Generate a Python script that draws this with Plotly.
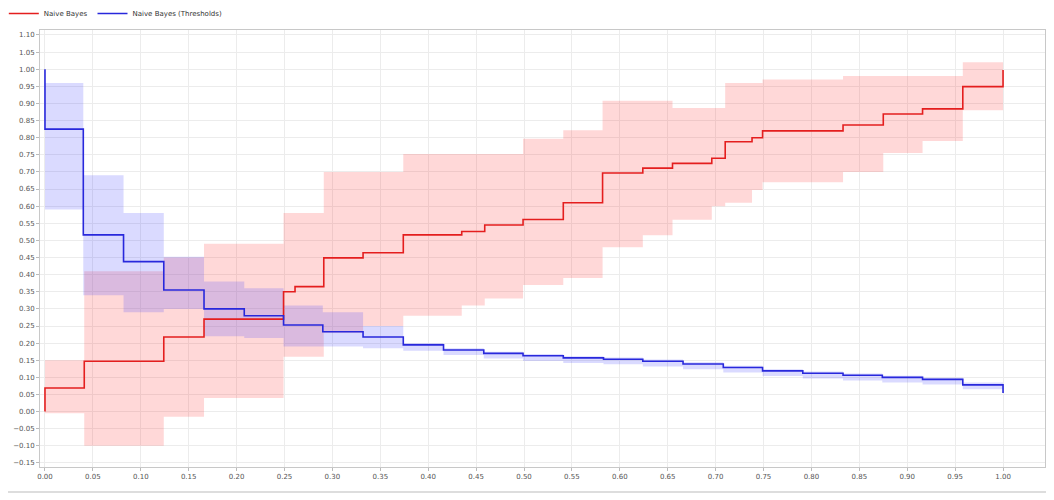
import plotly.graph_objects as go

# ---- Naive Bayes (red) : step breakpoints and per-step values ----
red_x = [0.000, 0.041, 0.124, 0.166, 0.249, 0.261, 0.291, 0.332, 0.374, 0.435,
         0.459, 0.499, 0.541, 0.582, 0.624, 0.655, 0.696, 0.710, 0.738, 0.749,
         0.833, 0.875, 0.916, 0.958, 1.000]
red_y = [0.069, 0.147, 0.218, 0.270, 0.350, 0.365, 0.449, 0.464, 0.516, 0.526,
         0.545, 0.561, 0.610, 0.697, 0.711, 0.725, 0.740, 0.788, 0.800, 0.820,
         0.837, 0.869, 0.884, 0.949]
red_end = 0.998
red_start = 0.0
red_upper = [0.150, 0.410, 0.450, 0.490, 0.580, 0.580, 0.700, 0.700, 0.752, 0.752,
             0.752, 0.797, 0.822, 0.908, 0.908, 0.887, 0.887, 0.960, 0.960, 0.970,
             0.980, 0.980, 0.980, 1.020]
red_lower = [-0.005, -0.100, -0.015, 0.040, 0.160, 0.160, 0.230, 0.250, 0.280, 0.310,
             0.330, 0.370, 0.390, 0.480, 0.515, 0.560, 0.600, 0.610, 0.647, 0.670,
             0.700, 0.755, 0.790, 0.880]

# ---- Naive Bayes (Thresholds) (blue) ----
blue_x = [0.000, 0.040, 0.082, 0.124, 0.166, 0.208, 0.249, 0.290, 0.332, 0.374,
          0.416, 0.458, 0.499, 0.541, 0.583, 0.624, 0.666, 0.708, 0.749, 0.791,
          0.833, 0.874, 0.916, 0.958, 1.000]
blue_y = [0.825, 0.516, 0.438, 0.355, 0.300, 0.280, 0.253, 0.233, 0.218, 0.195,
          0.180, 0.170, 0.163, 0.157, 0.153, 0.147, 0.139, 0.129, 0.119, 0.112,
          0.106, 0.100, 0.094, 0.078]
blue_start = 1.0
blue_end = 0.054
blue_upper = [0.960, 0.690, 0.580, 0.452, 0.380, 0.360, 0.310, 0.290, 0.250, 0.200,
              0.185, 0.175, 0.168, 0.162, 0.158, 0.152, 0.144, 0.134, 0.124, 0.117,
              0.111, 0.105, 0.099, 0.085]
blue_lower = [0.590, 0.340, 0.290, 0.300, 0.220, 0.215, 0.190, 0.190, 0.185, 0.178,
              0.165, 0.155, 0.148, 0.142, 0.138, 0.132, 0.124, 0.114, 0.104, 0.097,
              0.091, 0.085, 0.079, 0.065]

series_names = ["Naive Bayes", "Naive Bayes (Thresholds)"]
RED = "rgb(228,30,30)"
BLUE = "rgb(40,40,220)"
RED_FILL = "rgba(255,60,60,0.20)"
BLUE_FILL = "rgba(70,70,255,0.20)"

fig = go.Figure()


def add_band(xs, lo, hi, fill):
    fig.add_trace(go.Scatter(x=xs, y=lo + [lo[-1]], mode="lines", line=dict(width=0, shape="hv"),
                             showlegend=False, hoverinfo="skip"))
    fig.add_trace(go.Scatter(x=xs, y=hi + [hi[-1]], mode="lines", line=dict(width=0, shape="hv"),
                             fill="tonexty", fillcolor=fill, showlegend=False, hoverinfo="skip"))


add_band(red_x, red_lower, red_upper, RED_FILL)
add_band(blue_x, blue_lower, blue_upper, BLUE_FILL)

fig.add_trace(go.Scatter(x=[red_x[0]] + red_x, y=[red_start] + red_y + [red_end],
                         mode="lines", line=dict(color=RED, width=1.6, shape="hv"),
                         name=series_names[0]))
fig.add_trace(go.Scatter(x=[blue_x[0]] + blue_x, y=[blue_start] + blue_y + [blue_end],
                         mode="lines", line=dict(color=BLUE, width=1.6, shape="hv"),
                         name=series_names[1]))

axis_common = dict(
    showgrid=True, gridcolor="#ececec", gridwidth=1,
    zeroline=False, showline=True, linecolor="#c8c8c8", mirror=True,
    ticks="outside", ticklen=3, tickcolor="#bbbbbb",
    tickformat=".2f", dtick=0.05, tick0=0, automargin=False,
    tickfont=dict(family="DejaVu Sans", size=7, color="#555555"),
)

fig.update_layout(
    width=1046, height=492, autosize=False,
    margin=dict(l=32, r=9, t=22, b=33, autoexpand=False),
    paper_bgcolor="white", plot_bgcolor="white",
    xaxis=dict(range=[-0.0052, 1.0438], **axis_common),
    yaxis=dict(range=[-0.1618, 1.1145], **axis_common),
    legend=dict(orientation="h", x=-0.036, xanchor="left", y=1.071, yanchor="top",
                traceorder="normal",
                font=dict(family="DejaVu Sans", size=7, color="#333333"),
                itemwidth=30, tracegroupgap=0, bgcolor="rgba(0,0,0,0)"),
    shapes=[dict(type="line", xref="paper", yref="paper", x0=-0.04, x1=1.01,
                 y0=-0.057, y1=-0.057, line=dict(color="#dddddd", width=2))],
)

fig.write_html("out.html")
